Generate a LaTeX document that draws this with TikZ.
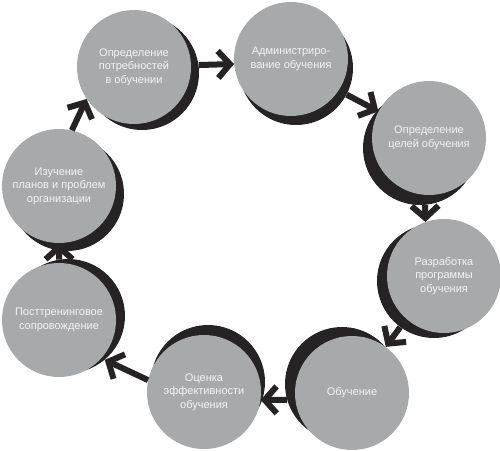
\documentclass[tikz,border=0pt]{standalone}
\usepackage{fontspec}
\setmainfont{Liberation Sans}
\usetikzlibrary{arrows.meta}
\definecolor{cgray}{HTML}{A8A9AB}
\definecolor{cdark}{HTML}{262324}
\definecolor{ctext}{HTML}{F4F4F4}
\tikzset{
  bub/.style={circle, fill=cgray, minimum size=114pt, inner sep=0pt, align=center,
    text=ctext, font=\fontsize{11}{13.5}\selectfont},
  shad/.style={circle, fill=cdark, minimum size=114pt, inner sep=0pt},
  arr/.style={draw=cdark, line width=6pt,
    -{Straight Barb[length=12pt,width=27pt,line width=6pt]}}
}
\begin{document}
\begin{tikzpicture}[x=1pt,y=-1pt]
\useasboundingbox (0,0) rectangle (500,450);
% shadows
\node[shad] (s1) at (142,73) {};
\node[shad] (s2) at (296,68) {};
\node[shad] (s3) at (420,148) {};
\node[shad] (s4) at (434,281) {};
\node[shad] (s5) at (342,384) {};
\node[shad] (s6) at (208,382) {};
\node[shad] (s7) at (68,316) {};
\node[shad] (s8) at (67,194) {};
% circles
\node[bub] (c1) at (134,67) {Определение\\потребностей\\в обучении};
\node[bub] (c2) at (291,59) {Администриро-\\вание обучения};
\node[bub] (c3) at (429,138) {Определение\\целей обучения};
\node[bub] (c4) at (444,276) {Разработка\\программы\\обучения};
\node[bub] (c5) at (352,393) {Обучение};
\node[bub] (c6) at (204,392) {Оценка\\эффективности\\обучения};
\node[bub] (c7) at (59,320) {Посттренинговое\\сопровождение};
\node[bub] (c8) at (59,186) {Изучение\\планов и проблем\\организации};
% arrows
\draw[arr] (s1.8) -- (c2.185);
\draw[arr] (s2) -- (c3);
\draw[arr] (s3.-85) -- (c4.109.5);
\draw[arr] (s4) -- (c5);
\draw[arr] (s5.196) -- (c6.-8);
\draw[arr] (c6.168) -- (s7.-50);
\draw[arr] (s7.99) -- (c8.south);
\draw[arr] (c8.77) -- (c1.214);
\end{tikzpicture}
\end{document}
